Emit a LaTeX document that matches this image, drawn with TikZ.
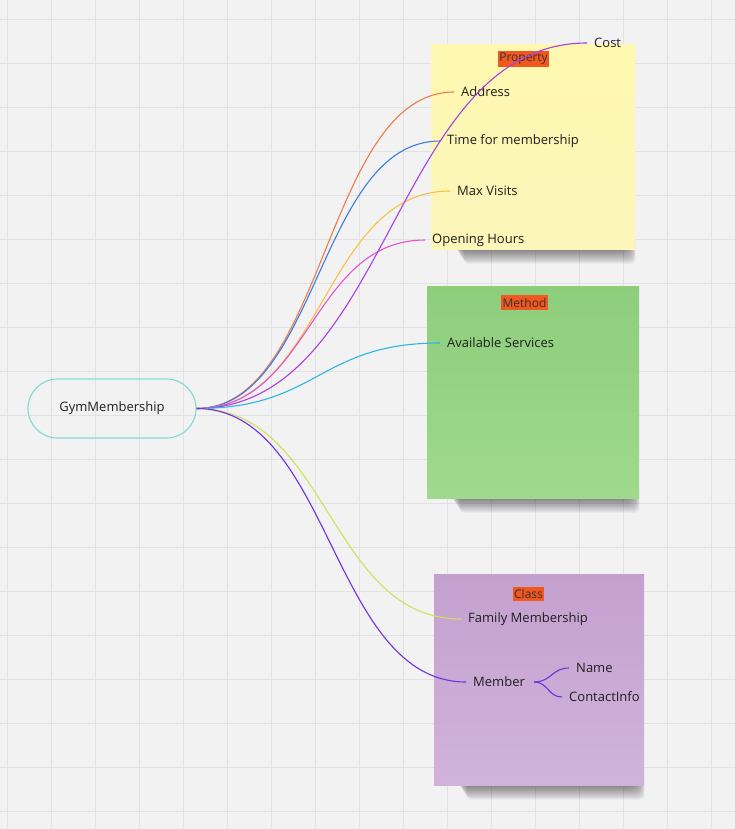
\documentclass[tikz,border=0pt]{standalone}
\usepackage{fontspec}
\setmainfont{Open Sans}
\usetikzlibrary{calc}
\definecolor{canvas}{HTML}{F2F2F2}
\definecolor{gridline}{HTML}{E2E2E2}
\definecolor{tagred}{HTML}{F2571F}
\definecolor{pillteal}{HTML}{86DCD4}
\definecolor{yellowtop}{HTML}{FEF8B0}
\definecolor{yellowbot}{HTML}{FCF6BA}
\definecolor{greentop}{HTML}{8DCE7C}
\definecolor{greenbot}{HTML}{9FD98D}
\definecolor{purpletop}{HTML}{C4A0CF}
\definecolor{purplebot}{HTML}{D1B3DA}
\definecolor{cCost}{HTML}{A93FE4}
\definecolor{cAddress}{HTML}{F07A4A}
\definecolor{cTime}{HTML}{3F7BE0}
\definecolor{cVisits}{HTML}{F6C145}
\definecolor{cHours}{HTML}{E455D6}
\definecolor{cServices}{HTML}{2EB6E2}
\definecolor{cFamily}{HTML}{CFE05C}
\definecolor{cMember}{HTML}{6F30E0}

\begin{document}
\begin{tikzpicture}[x=1pt,y=-1pt,
  item/.style={font=\fontsize{13}{15}\selectfont,text=black!88,inner xsep=7pt,inner ysep=1pt,anchor=west},
  tag/.style={fill=tagred,font=\fontsize{12}{14}\selectfont,text=black!80,inner xsep=1.5pt,inner ysep=2.5pt},
  link/.style={line width=1.1pt,to path={let \p1=(\tikztostart),\p2=(\tikztotarget),\n1={(\x2-\x1)/2} in
    .. controls +(\n1,0) and +(-\n1,0) .. (\tikztotarget)}}]
\useasboundingbox (0,0) rectangle (735,829);
% ---- canvas and grid ----
\fill[canvas] (0,0) rectangle (735,829);
\foreach \gx in {0,...,16} {\draw[gridline,line width=0.8pt] (7+44*\gx,0) -- (7+44*\gx,829);}
\foreach \gy in {0,...,18} {\draw[gridline,line width=0.8pt] (0,19+44*\gy) -- (735,19+44*\gy);}
% ---- sticky notes (soft shadow under the lower edge) ----
\foreach \xa/\xb/\yb in {431/635/249,427/639/498,434/644/785}
  \foreach \s in {1,...,16}
    \fill[black,opacity=0.032,rounded corners=4+0.5*\s] (\xa+34-0.8*\s,\yb-12) rectangle (\xb+1-0.4*\s,\yb+16-0.9*\s);
\path[top color=yellowtop,bottom color=yellowbot] (431,45) rectangle (635,249);
\path[top color=greentop,bottom color=greenbot] (427,286) rectangle (639,498);
\path[top color=purpletop,bottom color=purplebot] (434,574) rectangle (644,785);
\node[tag] (property) at (523.5,59) {Property};
\node[tag] (method) at (524.5,302.5) {Method};
\node[tag] (class) at (528.5,594) {Class};
% ---- root ----
\node[draw=pillteal,line width=1.2pt,rounded corners=29.5pt,minimum width=168pt,minimum height=59pt,
  font=\fontsize{13}{15}\selectfont,text=black!88] (gym) at (112,408.5) {GymMembership};
% ---- leaves ----
\node[item] (cost) at (587,43) {Cost};
\node[item] (address) at (454,92) {Address};
\node[item] (time) at (440,141) {Time for membership};
\node[item] (visits) at (450,191) {Max Visits};
\node[item] (hours) at (425,240) {Opening Hours};
\node[item] (services) at (440,343) {Available Services};
\node[item] (family) at (461,619) {Family Membership};
\node[item] (member) at (466,682) {Member};
\node[item] (name) at (569,668) {Name};
\node[item] (contact) at (562,697) {ContactInfo};
% ---- branches ----
\draw[link,cAddress] (gym.east) to (address.west);
\draw[link,cTime] (gym.east) to (time.west);
\draw[link,cVisits] (gym.east) to (visits.west);
\draw[link,cHours] (gym.east) to (hours.west);
\draw[link,cCost] (gym.east) to (cost.west);
\draw[link,cServices] (gym.east) to (services.west);
\draw[link,cFamily] (gym.east) to (family.west);
\draw[link,cMember] (gym.east) to (member.west);
\draw[link,cMember] ([xshift=2pt]member.east) to (name.west);
\draw[link,cMember] ([xshift=2pt]member.east) to (contact.west);
\end{tikzpicture}
\end{document}
